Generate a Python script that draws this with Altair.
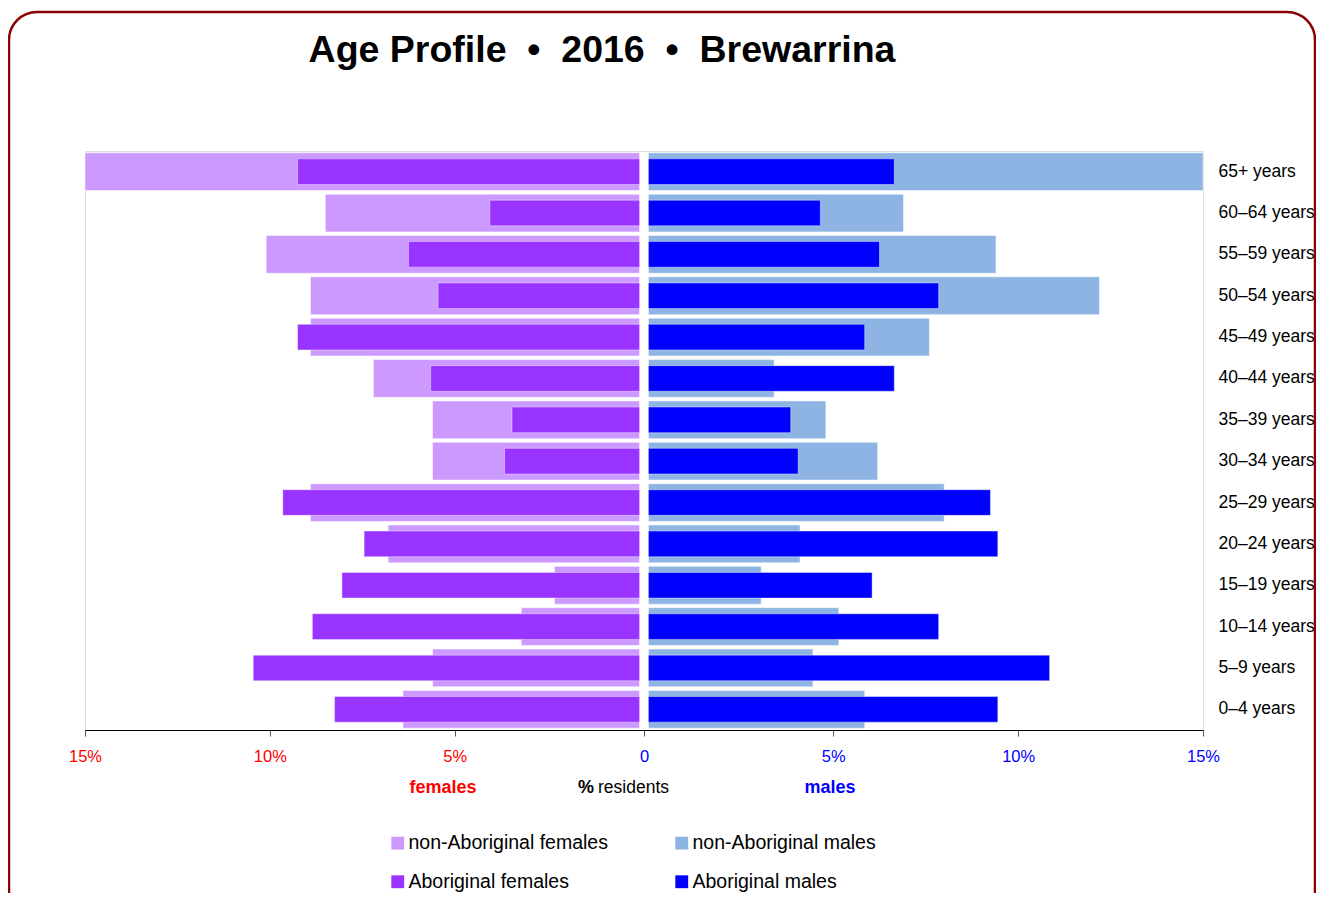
import altair as alt
import pandas as pd

# ---- data (percent of residents) ----
ages = ["65+ years", "60–64 years", "55–59 years", "50–54 years", "45–49 years",
        "40–44 years", "35–39 years", "30–34 years", "25–29 years", "20–24 years",
        "15–19 years", "10–14 years", "5–9 years", "0–4 years"]
nonab_females = [15.0, 8.5, 10.1, 8.9, 8.9, 7.2, 5.6, 5.6, 8.9, 6.8, 2.3, 3.2, 5.6, 6.4]
ab_females = [9.25, 4.05, 6.25, 5.45, 9.25, 5.65, 3.45, 3.65, 9.65, 7.45, 8.05, 8.85, 10.45, 8.25]
nonab_males = [15.0, 6.9, 9.4, 12.2, 7.6, 3.4, 4.8, 6.2, 8.0, 4.1, 3.05, 5.15, 4.45, 5.85]
ab_males = [6.65, 4.65, 6.25, 7.85, 5.85, 6.65, 3.85, 4.05, 9.25, 9.45, 6.05, 7.85, 10.85, 9.45]

series_names = ["non-Aboriginal females", "non-Aboriginal males", "Aboriginal females", "Aboriginal males"]
series_colors = ["#cc99ff", "#8eb4e3", "#9933ff", "#0000ff"]
tick_labels = ["15%", "10%", "5%", "0", "5%", "10%", "15%"]
tick_pcts = [-15, -10, -5, 0, 5, 10, 15]
title_text = "Age Profile \u00a0•\u00a0 2016 \u00a0•\u00a0 Brewarrina"

rows = []
for i, a in enumerate(ages):
    rows.append(dict(age=a, sex="F", kind="non", grp=series_names[0], value=nonab_females[i]))
    rows.append(dict(age=a, sex="M", kind="non", grp=series_names[1], value=nonab_males[i]))
    rows.append(dict(age=a, sex="F", kind="ab", grp=series_names[2], value=ab_females[i]))
    rows.append(dict(age=a, sex="M", kind="ab", grp=series_names[3], value=ab_males[i]))
df = pd.DataFrame(rows)

GAP = 0.12  # half gap between the two halves, in % units
FONT = "Liberation Sans"

tick_vals = [0 if t == 0 else (t - GAP if t < 0 else t + GAP) for t in tick_pcts]
label_map = " : ".join(
    f"abs(datum.value - ({v})) < 0.01 ? '{l}'" for v, l in zip(tick_vals, tick_labels)
) + " : ''"

x_scale = alt.Scale(domain=[-(15 + GAP), 15 + GAP], nice=False, zero=False)
y_scale = alt.Scale(domain=ages, paddingInner=0, paddingOuter=0)
color_scale = alt.Scale(domain=series_names, range=series_colors)

base = alt.Chart(df).transform_calculate(
    xs=f"datum.sex == 'F' ? -{GAP} : {GAP}",
    xe=f"datum.sex == 'F' ? -(datum.value + {GAP}) : datum.value + {GAP}",
)

x_axis = alt.Axis(
    values=tick_vals, labelExpr=label_map, title=None, grid=False, labelFlush=False,
    domainColor="#000000", domainWidth=1, tickColor="#555555", tickSize=6,
    labelFont=FONT, labelFontSize=16.5, labelPadding=12,
    labelColor={"condition": {"test": "datum.value < -0.01", "value": "#ff0000"}, "value": "#0000ff"},
)
y_axis = alt.Axis(
    orient="right", title=None, domain=False, ticks=False, labelFont=FONT,
    labelFontSize=17.5, labelPadding=15, labelColor="#000000", labelAlign="left",
)
legend = alt.Legend(
    title=None, orient="none", legendX=303, legendY=682, columns=2, direction="horizontal",
    columnPadding=64, rowPadding=18, symbolType="square", symbolSize=165,
    symbolStrokeWidth=0, labelFont=FONT, labelFontSize=19.5, labelOffset=1,
    labelColor="#000000", padding=0, labelLimit=400,
)

nonab = base.transform_filter("datum.kind == 'non'").mark_bar(
    height={"band": 0.913}, stroke="white", strokeWidth=1, strokeOpacity=0.5
).encode(
    y=alt.Y("age:N", sort=ages, scale=y_scale, axis=y_axis),
    x=alt.X("xs:Q", scale=x_scale, axis=x_axis),
    x2="xe:Q",
    color=alt.Color("grp:N", scale=color_scale, legend=legend, sort=series_names),
)
ab = base.transform_filter("datum.kind == 'ab'").mark_bar(
    height={"band": 0.62}, stroke="white", strokeWidth=1, strokeOpacity=0.4
).encode(
    y=alt.Y("age:N", sort=ages, scale=y_scale),
    x=alt.X("xs:Q", scale=x_scale),
    x2="xe:Q",
    color=alt.Color("grp:N", scale=color_scale, sort=series_names),
)

def txt(text, x, y, color="#000000", size=17.5, weight="normal", align="center"):
    return alt.Chart(pd.DataFrame({"t": [text]})).mark_text(
        font=FONT, fontSize=size, fontWeight=weight, color=color, align=align, baseline="middle"
    ).encode(x=alt.value(x), y=alt.value(y), text="t:N")

title = txt(title_text, 517, -100, size=37.5, weight="bold")
fem = txt("females", 358, 637, color="#ff0000", size=18, weight="bold")
pct = txt("%", 493, 637, size=18, weight="bold", align="left")
res = txt("residents", 513, 637, size=17.5, align="left")
mal = txt("males", 745, 637, color="#0000ff", size=18, weight="bold")

frame = alt.Chart(pd.DataFrame({"f": [1]})).mark_rect(
    filled=False, stroke="#8b0000", strokeWidth=2.5, cornerRadius=28
).encode(x=alt.value(-76), x2=alt.value(1230), y=alt.value(-139), y2=alt.value(1000))

chart = alt.layer(frame, nonab, ab, title, fem, pct, res, mal).properties(
    width=1118, height=579,
    autosize=alt.AutoSizeParams(type="none"),
    padding={"left": 77, "top": 143, "right": 113, "bottom": 163},
).configure_view(stroke=None).configure(background="white")

chart.save("out.html", embed_options={"renderer": "svg", "actions": False})
